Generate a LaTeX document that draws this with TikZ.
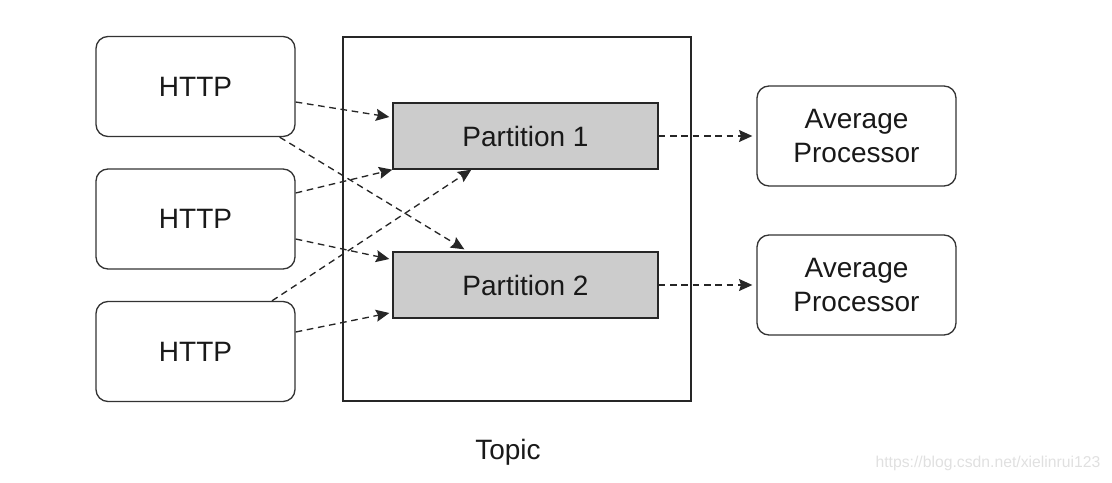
\documentclass[tikz,border=0pt]{standalone}
\usepackage{fontspec}
\setmainfont{Liberation Sans}
\usetikzlibrary{calc,arrows.meta}
\begin{document}
\begin{tikzpicture}[x=0.75pt,y=-0.75pt,
  every node/.style={font=\fontsize{21}{25.5}\selectfont, text=black!90},
  rbox/.style={draw=black!80, line width=1pt, rounded corners=9pt, minimum width=149.25pt, minimum height=75pt, inner sep=0pt, align=center},
  pbox/.style={draw=black!85, line width=1pt, fill=black!20, minimum width=198.75pt, minimum height=49.5pt, inner sep=0pt},
  flow/.style={draw=black!85, line width=1pt, dash pattern=on 5pt off 3.5pt, -{Stealth[length=10pt,width=9pt,inset=1.5pt]}}
]
\useasboundingbox (0,0) rectangle (1112,482);
\node[draw=black!85, line width=1pt, minimum width=261pt, minimum height=273pt, inner sep=0pt] (topic) at (517,219) {};
\node[anchor=base] (topiclbl) at (508,459) {Topic};
\node[rbox] (h1) at (195.5,86.5) {HTTP};
\node[rbox] (h2) at (195.5,219) {HTTP};
\node[rbox] (h3) at (195.5,351.5) {HTTP};
\node[pbox] (p1) at (525.5,136) {Partition 1};
\node[pbox] (p2) at (525.5,285) {Partition 2};
\node[rbox] (a1) at (856.5,136) {Average\\Processor};
\node[rbox] (a2) at (856.5,285) {Average\\Processor};
\node[anchor=base, font=\fontsize{11.8}{13}\selectfont, text=black!12] (wm) at (988,467) {https://blog.csdn.net/xielinrui123};
% connectors
\draw[flow] ($(h1.east)+(0,15.5)$) -- ($(p1.west)+(-3,-19)$);
\draw[flow] ($(h1.south east)+(-16,0)$) -- ($(p2.north west)+(72,-2)$);
\draw[flow] ($(h2.east)+(0,-26)$) -- (p1.south west);
\draw[flow] ($(h2.east)+(0,20)$) -- ($(p2.west)+(-3,-26)$);
\draw[flow] ($(h3.north)+(76.5,0)$) -- ($(p1.south west)+(79,0)$);
\draw[flow] ($(h3.east)+(0,-19.5)$) -- ($(p2.west)+(-3,28)$);
\draw[flow, shorten >=3pt] (p1.east) -- (a1.west);
\draw[flow, shorten >=3pt] (p2.east) -- (a2.west);
\end{tikzpicture}
\end{document}
